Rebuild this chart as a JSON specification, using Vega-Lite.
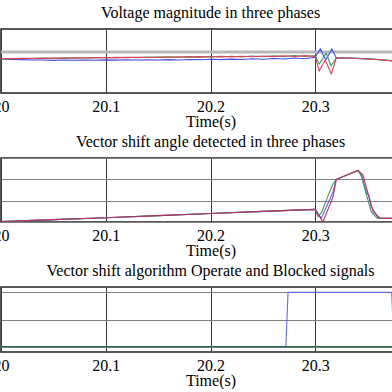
{
  "$schema": "https://vega.github.io/schema/vega-lite/v6.json",
  "padding": {"left": -8, "top": 4, "right": 0, "bottom": 0},
  "background": "white",
  "bounds": "flush",
  "spacing": 65,
  "resolve": {"scale": {"color": "independent", "y": "independent"}},
  "config": {
    "font": "Liberation Serif",
    "view": {"stroke": "#222222", "strokeWidth": 1.5},
    "title": {"font": "Liberation Serif", "fontSize": 16, "fontWeight": "normal", "color": "#000000", "offset": 8},
    "axis": {
      "labelFont": "Liberation Serif", "labelFontSize": 16, "labelColor": "#000000",
      "titleFont": "Liberation Serif", "titleFontSize": 16, "titleFontWeight": "normal", "titleColor": "#000000",
      "domain": false, "ticks": false
    },
    "line": {"strokeWidth": 1.1}
  },
  "datasets": {
    "level": [{"v": 1.034}],
    "volt": [
      {"t": 20.00, "phase": "C", "v": 1.0080}, {"t": 20.01, "phase": "C", "v": 1.0060}, {"t": 20.02, "phase": "C", "v": 1.0050},
      {"t": 20.03, "phase": "C", "v": 1.0040}, {"t": 20.04, "phase": "C", "v": 1.0035}, {"t": 20.05, "phase": "C", "v": 1.0025},
      {"t": 20.06, "phase": "C", "v": 1.0035}, {"t": 20.07, "phase": "C", "v": 1.0028}, {"t": 20.08, "phase": "C", "v": 1.0040},
      {"t": 20.09, "phase": "C", "v": 1.0030}, {"t": 20.10, "phase": "C", "v": 1.0042}, {"t": 20.11, "phase": "C", "v": 1.0032},
      {"t": 20.12, "phase": "C", "v": 1.0045}, {"t": 20.13, "phase": "C", "v": 1.0035}, {"t": 20.14, "phase": "C", "v": 1.0048},
      {"t": 20.15, "phase": "C", "v": 1.0038}, {"t": 20.16, "phase": "C", "v": 1.0052}, {"t": 20.17, "phase": "C", "v": 1.0040},
      {"t": 20.18, "phase": "C", "v": 1.0058}, {"t": 20.19, "phase": "C", "v": 1.0045}, {"t": 20.20, "phase": "C", "v": 1.0065},
      {"t": 20.21, "phase": "C", "v": 1.0050}, {"t": 20.22, "phase": "C", "v": 1.0072}, {"t": 20.23, "phase": "C", "v": 1.0058},
      {"t": 20.24, "phase": "C", "v": 1.0085}, {"t": 20.25, "phase": "C", "v": 1.0065}, {"t": 20.26, "phase": "C", "v": 1.0095},
      {"t": 20.27, "phase": "C", "v": 1.0075}, {"t": 20.28, "phase": "C", "v": 1.0110}, {"t": 20.29, "phase": "C", "v": 1.0085},
      {"t": 20.300, "phase": "C", "v": 1.0140}, {"t": 20.3048, "phase": "C", "v": 1.0450}, {"t": 20.3100, "phase": "C", "v": 1.0038},
      {"t": 20.3158, "phase": "C", "v": 1.0450}, {"t": 20.3201, "phase": "C", "v": 1.0113}, {"t": 20.325, "phase": "C", "v": 1.0115},
      {"t": 20.335, "phase": "C", "v": 1.0105}, {"t": 20.345, "phase": "C", "v": 1.0088}, {"t": 20.355, "phase": "C", "v": 1.0068},
      {"t": 20.365, "phase": "C", "v": 1.0040}, {"t": 20.375, "phase": "C", "v": 1.0000}, {"t": 20.39, "phase": "C", "v": 0.9940},
      {"t": 20.00, "phase": "B", "v": 1.0090}, {"t": 20.01, "phase": "B", "v": 1.0088}, {"t": 20.02, "phase": "B", "v": 1.0100},
      {"t": 20.03, "phase": "B", "v": 1.0095}, {"t": 20.04, "phase": "B", "v": 1.0108}, {"t": 20.05, "phase": "B", "v": 1.0102},
      {"t": 20.06, "phase": "B", "v": 1.0116}, {"t": 20.07, "phase": "B", "v": 1.0108}, {"t": 20.08, "phase": "B", "v": 1.0124},
      {"t": 20.09, "phase": "B", "v": 1.0115}, {"t": 20.10, "phase": "B", "v": 1.0132}, {"t": 20.11, "phase": "B", "v": 1.0122},
      {"t": 20.12, "phase": "B", "v": 1.0140}, {"t": 20.13, "phase": "B", "v": 1.0128}, {"t": 20.14, "phase": "B", "v": 1.0148},
      {"t": 20.15, "phase": "B", "v": 1.0135}, {"t": 20.16, "phase": "B", "v": 1.0156}, {"t": 20.17, "phase": "B", "v": 1.0140},
      {"t": 20.18, "phase": "B", "v": 1.0164}, {"t": 20.19, "phase": "B", "v": 1.0146}, {"t": 20.20, "phase": "B", "v": 1.0172},
      {"t": 20.21, "phase": "B", "v": 1.0150}, {"t": 20.22, "phase": "B", "v": 1.0180}, {"t": 20.23, "phase": "B", "v": 1.0155},
      {"t": 20.24, "phase": "B", "v": 1.0188}, {"t": 20.25, "phase": "B", "v": 1.0160}, {"t": 20.26, "phase": "B", "v": 1.0196},
      {"t": 20.27, "phase": "B", "v": 1.0165}, {"t": 20.28, "phase": "B", "v": 1.0205}, {"t": 20.29, "phase": "B", "v": 1.0170},
      {"t": 20.300, "phase": "B", "v": 1.0200}, {"t": 20.3038, "phase": "B", "v": 0.9888}, {"t": 20.3105, "phase": "B", "v": 1.0300},
      {"t": 20.3150, "phase": "B", "v": 0.9820}, {"t": 20.3201, "phase": "B", "v": 1.0113}, {"t": 20.325, "phase": "B", "v": 1.0120},
      {"t": 20.335, "phase": "B", "v": 1.0110}, {"t": 20.345, "phase": "B", "v": 1.0092}, {"t": 20.355, "phase": "B", "v": 1.0070},
      {"t": 20.365, "phase": "B", "v": 1.0042}, {"t": 20.375, "phase": "B", "v": 1.0002}, {"t": 20.39, "phase": "B", "v": 0.9942},
      {"t": 20.00, "phase": "A", "v": 1.0085}, {"t": 20.01, "phase": "A", "v": 1.0095}, {"t": 20.02, "phase": "A", "v": 1.0090},
      {"t": 20.03, "phase": "A", "v": 1.0105}, {"t": 20.04, "phase": "A", "v": 1.0098}, {"t": 20.05, "phase": "A", "v": 1.0112},
      {"t": 20.06, "phase": "A", "v": 1.0105}, {"t": 20.07, "phase": "A", "v": 1.0120}, {"t": 20.08, "phase": "A", "v": 1.0112},
      {"t": 20.09, "phase": "A", "v": 1.0128}, {"t": 20.10, "phase": "A", "v": 1.0120}, {"t": 20.11, "phase": "A", "v": 1.0135},
      {"t": 20.12, "phase": "A", "v": 1.0126}, {"t": 20.13, "phase": "A", "v": 1.0142}, {"t": 20.14, "phase": "A", "v": 1.0132},
      {"t": 20.15, "phase": "A", "v": 1.0150}, {"t": 20.16, "phase": "A", "v": 1.0138}, {"t": 20.17, "phase": "A", "v": 1.0158},
      {"t": 20.18, "phase": "A", "v": 1.0145}, {"t": 20.19, "phase": "A", "v": 1.0165}, {"t": 20.20, "phase": "A", "v": 1.0150},
      {"t": 20.21, "phase": "A", "v": 1.0172}, {"t": 20.22, "phase": "A", "v": 1.0155}, {"t": 20.23, "phase": "A", "v": 1.0180},
      {"t": 20.24, "phase": "A", "v": 1.0160}, {"t": 20.25, "phase": "A", "v": 1.0188}, {"t": 20.26, "phase": "A", "v": 1.0165},
      {"t": 20.27, "phase": "A", "v": 1.0195}, {"t": 20.28, "phase": "A", "v": 1.0170}, {"t": 20.29, "phase": "A", "v": 1.0200},
      {"t": 20.300, "phase": "A", "v": 1.0170}, {"t": 20.3038, "phase": "A", "v": 0.9625}, {"t": 20.3096, "phase": "A", "v": 1.0038},
      {"t": 20.3153, "phase": "A", "v": 0.9513}, {"t": 20.3201, "phase": "A", "v": 1.0113}, {"t": 20.325, "phase": "A", "v": 1.0112},
      {"t": 20.335, "phase": "A", "v": 1.0102}, {"t": 20.345, "phase": "A", "v": 1.0085}, {"t": 20.355, "phase": "A", "v": 1.0065},
      {"t": 20.365, "phase": "A", "v": 1.0038}, {"t": 20.375, "phase": "A", "v": 0.9998}, {"t": 20.39, "phase": "A", "v": 0.9938}
    ],
    "vs": [
      {"t": 20.00, "phase": "C", "a": 0.02}, {"t": 20.05, "phase": "C", "a": 0.11}, {"t": 20.10, "phase": "C", "a": 0.20},
      {"t": 20.15, "phase": "C", "a": 0.30}, {"t": 20.20, "phase": "C", "a": 0.40}, {"t": 20.25, "phase": "C", "a": 0.50},
      {"t": 20.30, "phase": "C", "a": 0.59}, {"t": 20.3057, "phase": "C", "a": 0.17}, {"t": 20.3169, "phase": "C", "a": 1.40},
      {"t": 20.3201, "phase": "C", "a": 2.00}, {"t": 20.3408, "phase": "C", "a": 2.42}, {"t": 20.3439, "phase": "C", "a": 2.25},
      {"t": 20.3487, "phase": "C", "a": 1.40}, {"t": 20.3510, "phase": "C", "a": 1.25}, {"t": 20.3535, "phase": "C", "a": 0.70},
      {"t": 20.3605, "phase": "C", "a": 0.18}, {"t": 20.40, "phase": "C", "a": 0.17},
      {"t": 20.00, "phase": "B", "a": 0.02}, {"t": 20.05, "phase": "B", "a": 0.11}, {"t": 20.10, "phase": "B", "a": 0.20},
      {"t": 20.15, "phase": "B", "a": 0.30}, {"t": 20.20, "phase": "B", "a": 0.40}, {"t": 20.25, "phase": "B", "a": 0.50},
      {"t": 20.30, "phase": "B", "a": 0.59}, {"t": 20.3026, "phase": "B", "a": 0.25}, {"t": 20.3060, "phase": "B", "a": 0.45},
      {"t": 20.3120, "phase": "B", "a": 1.20}, {"t": 20.3169, "phase": "B", "a": 1.78}, {"t": 20.3201, "phase": "B", "a": 2.00},
      {"t": 20.3408, "phase": "B", "a": 2.42}, {"t": 20.3439, "phase": "B", "a": 2.15}, {"t": 20.3535, "phase": "B", "a": 0.47},
      {"t": 20.3592, "phase": "B", "a": 0.18}, {"t": 20.40, "phase": "B", "a": 0.17},
      {"t": 20.00, "phase": "A", "a": 0.02}, {"t": 20.05, "phase": "A", "a": 0.11}, {"t": 20.10, "phase": "A", "a": 0.20},
      {"t": 20.15, "phase": "A", "a": 0.30}, {"t": 20.20, "phase": "A", "a": 0.40}, {"t": 20.25, "phase": "A", "a": 0.50},
      {"t": 20.30, "phase": "A", "a": 0.59}, {"t": 20.3073, "phase": "A", "a": 0.00}, {"t": 20.3169, "phase": "A", "a": 1.17},
      {"t": 20.3201, "phase": "A", "a": 2.00}, {"t": 20.3408, "phase": "A", "a": 2.42}, {"t": 20.3456, "phase": "A", "a": 2.20},
      {"t": 20.3487, "phase": "A", "a": 1.63}, {"t": 20.3554, "phase": "A", "a": 0.47}, {"t": 20.3624, "phase": "A", "a": 0.17},
      {"t": 20.40, "phase": "A", "a": 0.17}
    ],
    "sig": [
      {"t": 20.000, "signal": "Operate", "s": 0}, {"t": 20.272, "signal": "Operate", "s": 0},
      {"t": 20.274, "signal": "Operate", "s": 1}, {"t": 20.373, "signal": "Operate", "s": 1},
      {"t": 20.375, "signal": "Operate", "s": 0}, {"t": 20.400, "signal": "Operate", "s": 0},
      {"t": 20.000, "signal": "Blocked", "s": 0}, {"t": 20.400, "signal": "Blocked", "s": 0}
    ]
  },
  "vconcat": [
    {
      "title": "Voltage magnitude in three phases",
      "width": 419,
      "height": 64,
      "layer": [
        {
          "data": {"name": "level"},
          "mark": {"type": "rule", "color": "#b8b8b8", "strokeWidth": 3},
          "encoding": {"y": {"field": "v", "type": "quantitative", "scale": {"domain": [0.88, 1.12]}}}
        },
        {
          "data": {"name": "volt"},
          "mark": {"type": "line", "clip": true},
          "encoding": {
            "x": {"field": "t", "type": "quantitative", "scale": {"domain": [20, 20.4], "nice": false, "zero": false},
                  "axis": {"values": [20, 20.1, 20.2, 20.3, 20.4], "format": ".1~f", "labelFlush": false, "grid": true, "gridColor": "#383838", "gridWidth": 1, "labelPadding": 5, "title": "Time(s)", "titlePadding": -1}},
            "y": {"field": "v", "type": "quantitative", "scale": {"domain": [0.88, 1.12], "nice": false, "zero": false},
                  "axis": {"labels": false, "grid": false, "title": null}},
            "color": {"field": "phase", "type": "nominal", "scale": {"domain": ["C", "B", "A"], "range": ["#4a4ae6", "#3f9a55", "#e2405c"]}, "legend": null}
          }
        }
      ]
    },
    {
      "title": "Vector shift angle detected in three phases",
      "width": 419,
      "height": 64,
      "data": {"name": "vs"},
      "mark": {"type": "line", "clip": true},
      "encoding": {
        "x": {"field": "t", "type": "quantitative", "scale": {"domain": [20, 20.4], "nice": false, "zero": false},
              "axis": {"values": [20, 20.1, 20.2, 20.3, 20.4], "format": ".1~f", "labelFlush": false, "grid": true, "gridColor": "#383838", "gridWidth": 1, "labelPadding": 5, "title": "Time(s)", "titlePadding": -1}},
        "y": {"field": "a", "type": "quantitative", "scale": {"domain": [0, 3], "nice": false, "zero": false},
              "axis": {"labels": false, "grid": true, "gridColor": "#808080", "values": [0, 1, 2, 3], "title": null}},
        "color": {"field": "phase", "type": "nominal", "scale": {"domain": ["C", "B", "A"], "range": ["#5a5ae0", "#3f9a55", "#b8306a"]}, "legend": null}
      }
    },
    {
      "title": "Vector shift algorithm Operate and Blocked signals",
      "width": 419,
      "height": 65,
      "data": {"name": "sig"},
      "mark": {"type": "line", "clip": true},
      "encoding": {
        "x": {"field": "t", "type": "quantitative", "scale": {"domain": [20, 20.4], "nice": false, "zero": false},
              "axis": {"values": [20, 20.1, 20.2, 20.3, 20.4], "format": ".1~f", "labelFlush": false, "grid": true, "gridColor": "#383838", "gridWidth": 1, "labelPadding": 5, "title": "Time(s)", "titlePadding": -1}},
        "y": {"field": "s", "type": "quantitative", "scale": {"domain": [-0.1, 1.1], "nice": false, "zero": false},
              "axis": {"labels": false, "grid": true, "gridColor": "#808080", "values": [0, 0.5, 1], "title": null}},
        "color": {"field": "signal", "type": "nominal", "scale": {"domain": ["Operate", "Blocked"], "range": ["#6a6ae2", "#2a6e48"]}, "legend": null}
      }
    }
  ]
}
